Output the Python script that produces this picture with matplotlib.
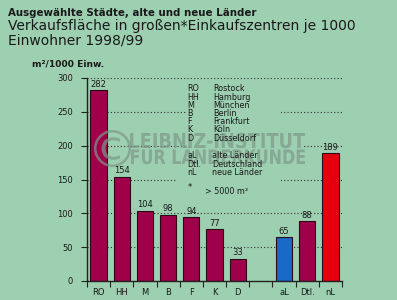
import matplotlib
matplotlib.use("Agg")
import matplotlib.pyplot as plt
from matplotlib.patches import Rectangle, PathPatch
from matplotlib.textpath import TextPath
from matplotlib.font_manager import FontProperties
from matplotlib.transforms import Affine2D, IdentityTransform

categories = ["RO", "HH", "M", "B", "F", "K", "D", "", "aL", "Dtl.", "nL"]
values = [282, 154, 104, 98, 94, 77, 33, None, 65, 88, 189]
colors = ["#a0004a"] * 7 + [None, "#1a68c8", "#a0004a", "#e6000f"]
yticks = [0, 50, 100, 150, 200, 250, 300]

legend_abbr = ["RO", "HH", "M", "B", "F", "K", "D"]
legend_names = ["Rostock", "Hamburg", "München", "Berlin", "Frankfurt", "Köln", "Düsseldorf"]
legend2_abbr = ["aL", "Dtl.", "nL"]
legend2_names = ["alte Länder", "Deutschland", "neue Länder"]

BG = "#9dcfb1"
TXT = "#1a1a1a"
WM = "#7d9888"

W, H = 397, 300
fig = plt.figure(figsize=(3.97, 3.0), dpi=100, facecolor=BG)
ax = fig.add_axes([87/W, 1-281/H, (342-87)/W, (281-78)/H])
ax.set_facecolor(BG)

def px2x(px):
    return (px - 87) / ((342 - 87) / 11) - 0.5
def py2y(py):
    return (281 - py) / ((281 - 78) / 300)

def rect(x0, x1, y0, y1):
    ax.add_patch(Rectangle((px2x(x0), py2y(y1)), px2x(x1) - px2x(x0), py2y(y0) - py2y(y1),
                           facecolor=BG, edgecolor="none", zorder=1.5))

# grid
for v in yticks[1:]:
    ax.axhline(v, color="#333333", lw=0.8, ls=(0, (1, 2)), zorder=1)

# blank areas behind legend
rect(186, 281, 83, 170)
rect(186, 302, 140, 152)
rect(177, 281, 170, 183)

for i, (v, c) in enumerate(zip(values, colors)):
    if v is None:
        continue
    ax.bar(i, v, width=0.7, color=c, edgecolor="#2a0a14", linewidth=0.8, zorder=3)
    ax.text(i, v + 2, str(v), ha="center", va="bottom", fontsize=6, color=TXT, zorder=4)

ax.set_xlim(-0.5, 10.5)
ax.set_ylim(0, 300)
ax.set_yticks(yticks)
ax.set_yticklabels([str(t) for t in yticks], fontsize=6, color=TXT)
ax.set_xticks([i - 0.5 for i in range(12)])
ax.set_xticklabels([])
ax.set_xticks(range(11), minor=True)
ax.set_xticklabels(categories, minor=True, fontsize=6, color=TXT)
ax.tick_params(axis="x", which="minor", length=0, pad=5)
ax.tick_params(axis="x", which="major", length=4, width=0.8, color="#222222")
ax.tick_params(axis="y", length=4, width=0.8, color="#222222", pad=6)
for s in ["top", "right"]:
    ax.spines[s].set_visible(False)
for s in ["left", "bottom"]:
    ax.spines[s].set_color("#222222")
    ax.spines[s].set_linewidth(1.0)
    ax.spines[s].set_zorder(5)

# legend text
for k, (a, n) in enumerate(zip(legend_abbr, legend_names)):
    yy = py2y(89 + k * 8.2)
    ax.text(px2x(187), yy, a, fontsize=5.8, color=TXT, va="center", ha="left", zorder=4)
    ax.text(px2x(213), yy, n, fontsize=5.8, color=TXT, va="center", ha="left", zorder=4)
for k, (a, n) in enumerate(zip(legend2_abbr, legend2_names)):
    yy = py2y(156 + k * 8.4)
    ax.text(px2x(187), yy, a, fontsize=5.8, color=TXT, va="center", ha="left", zorder=4)
    ax.text(px2x(212), yy, n, fontsize=5.8, color=TXT, va="center", ha="left", zorder=4)
ax.text(px2x(188), py2y(188), "*", fontsize=6, color=TXT, va="center", ha="left", zorder=4)
ax.text(px2x(205), py2y(191), "> 5000 m²", fontsize=5.8, color=TXT, va="center", ha="left", zorder=4)

# watermark (condensed text drawn as paths, pixel coordinates)
fp = FontProperties(family="DejaVu Sans", weight="bold")
cap = TextPath((0, 0), "H", size=1, prop=fp).get_extents().height

def wm_text(s, x, base_py, width, caph):
    tp = TextPath((0, 0), s, size=1, prop=fp)
    ext = tp.get_extents()
    sx = width / ext.width
    sy = caph / cap
    tr = Affine2D().translate(-ext.x0, 0).scale(sx, sy).translate(x, H - base_py)
    p = PathPatch(tp, facecolor=WM, edgecolor="none", alpha=0.7,
                  transform=tr + IdentityTransform(), zorder=3.5, clip_on=False)
    ax.add_artist(p)

wm_text("LEIBNIZ-INSTITUT", 130, 148, 175, 15)
wm_text("FÜR LÄNDERKUNDE", 131, 164, 174, 14.5)
tpc = TextPath((0, 0), "©", size=1, prop=FontProperties(family="DejaVu Sans"))
e = tpc.get_extents()
trc = Affine2D().translate(-e.x0, -e.y0).scale(37 / e.width, 37 / e.height).translate(94, H - 167)
ax.add_artist(PathPatch(tpc, facecolor=WM, edgecolor="none", alpha=0.7,
                        transform=trc + IdentityTransform(), zorder=3.5, clip_on=False))

# titles
fig.text(8/W, 1-13/H, "Ausgewählte Städte, alte und neue Länder", fontsize=7.4,
         fontweight="bold", color=TXT, ha="left", va="center")
fig.text(8/W, 1-26/H, "Verkaufsfläche in großen*Einkaufszentren je 1000", fontsize=10.0,
         color=TXT, ha="left", va="center")
fig.text(8/W, 1-40/H, "Einwohner 1998/99", fontsize=10.0, color=TXT, ha="left", va="center")
fig.text(32/W, 1-64/H, "m²/1000 Einw.", fontsize=6.6, fontweight="bold", color=TXT,
         ha="left", va="center")

fig.savefig("out.png", dpi=100, facecolor=BG)
